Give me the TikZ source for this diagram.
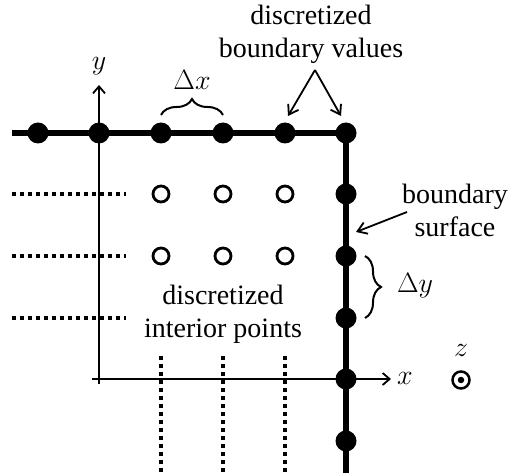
\documentclass[tikz,border=0pt]{standalone}
\usepackage{fix-cm}
\usepackage{fontspec}
\setmainfont{Liberation Serif}
\usetikzlibrary{arrows.meta,decorations.pathreplacing}
\begin{document}
\begin{tikzpicture}[x=1pt,y=-1pt,
  bline/.style={line width=6pt,line join=miter},
  bdot/.style={circle,fill=black,inner sep=0pt,minimum size=21pt},
  idot/.style={circle,draw=black,line width=2.8pt,inner sep=0pt,minimum size=16pt},
  axisline/.style={line width=1.8pt},
  dotline/.style={line width=4pt,dash pattern=on 4pt off 4pt},
  ptr/.style={line width=1.8pt,-{Straight Barb[length=9pt,width=12pt,line width=1.8pt]}},
  bracestyle/.style={line width=2pt,decorate,decoration={brace,amplitude=16pt}},
  lbl/.style={font=\fontsize{28}{33}\selectfont,align=center,inner sep=0pt},
  mlbl/.style={font=\fontsize{28}{33}\selectfont,inner sep=0pt}]
\useasboundingbox (0,0) rectangle (519,473);
% boundary
\coordinate (bl) at (12,133);
\coordinate (bb) at (346,473);
\coordinate (bc) at (346,133);
\draw[bline] (bl) -- (bc) -- (bb);
% dotted lines
\coordinate (h1a) at (12,194); \coordinate (h1b) at (126,194);
\coordinate (h2a) at (12,256); \coordinate (h2b) at (126,256);
\coordinate (h3a) at (12,318); \coordinate (h3b) at (126,318);
\draw[dotline] (h1a) -- (h1b);
\draw[dotline] (h2a) -- (h2b);
\draw[dotline] (h3a) -- (h3b);
\coordinate (v1a) at (161,356); \coordinate (v1b) at (161,473);
\coordinate (v2a) at (223,356); \coordinate (v2b) at (223,473);
\coordinate (v3a) at (285,356); \coordinate (v3b) at (285,473);
\draw[dotline] (v1a) -- (v1b);
\draw[dotline] (v2a) -- (v2b);
\draw[dotline] (v3a) -- (v3b);
% axes
\coordinate (xs) at (92,379); \coordinate (xe) at (391,379);
\coordinate (ys) at (99,384); \coordinate (ye) at (99,85);
\draw[axisline,-{Straight Barb[length=7pt,width=12pt,line width=1.8pt]}] (xs) -- (xe);
\draw[axisline,-{Straight Barb[length=7pt,width=12pt,line width=1.8pt]}] (ys) -- (ye);
\node[mlbl] (ylab) at (99,66) {$y$};
\node[mlbl] (xlab) at (405,378) {$x$};
\node[mlbl] (zlab) at (461,350) {$z$};
\node[circle,draw,line width=2.5pt,minimum size=17pt,inner sep=0pt] (zc) at (461,380) {};
\node[circle,fill,minimum size=6.5pt,inner sep=0pt] (zd) at (zc) {};
% top dots
\node[bdot] (t1) at (38,133) {};
\node[bdot] (t2) at (99,133) {};
\node[bdot] (t3) at (161,133) {};
\node[bdot] (t4) at (223,133) {};
\node[bdot] (t5) at (285,133) {};
\node[bdot] (t6) at (346,133) {};
% right dots
\node[bdot] (r2) at (346,194) {};
\node[bdot] (r3) at (346,256) {};
\node[bdot] (r4) at (346,318) {};
\node[bdot] (r5) at (346,379) {};
\node[bdot] (r6) at (346,441) {};
% interior
\node[idot] (i11) at (161,194) {};
\node[idot] (i12) at (223,194) {};
\node[idot] (i13) at (285,194) {};
\node[idot] (i21) at (161,256) {};
\node[idot] (i22) at (223,256) {};
\node[idot] (i23) at (285,256) {};
% braces
\coordinate (dxa) at (161,115); \coordinate (dxb) at (223,115);
\draw[bracestyle] (dxa) -- (dxb);
\node[mlbl] (dxl) at (192,80) {$\Delta x$};
\coordinate (dya) at (365,256); \coordinate (dyb) at (365,318);
\draw[bracestyle] (dya) -- (dyb);
\node[mlbl] (dyl) at (415,286) {$\Delta y$};
% labels
\node[lbl] (bv) at (311,34) {discretized\\boundary values};
\coordinate (apex) at (315,70);
\draw[ptr] (apex) -- (288,116);
\draw[ptr] (apex) -- (341,116);
\node[lbl] (bs) at (455,210) {boundary\\surface};
\coordinate (bsa) at (407,212);
\coordinate (bse) at (356,232);
\draw[ptr] (bsa) -- (bse);
\node[lbl] (ip) at (223,314) {discretized\\interior points};
\end{tikzpicture}
\end{document}
